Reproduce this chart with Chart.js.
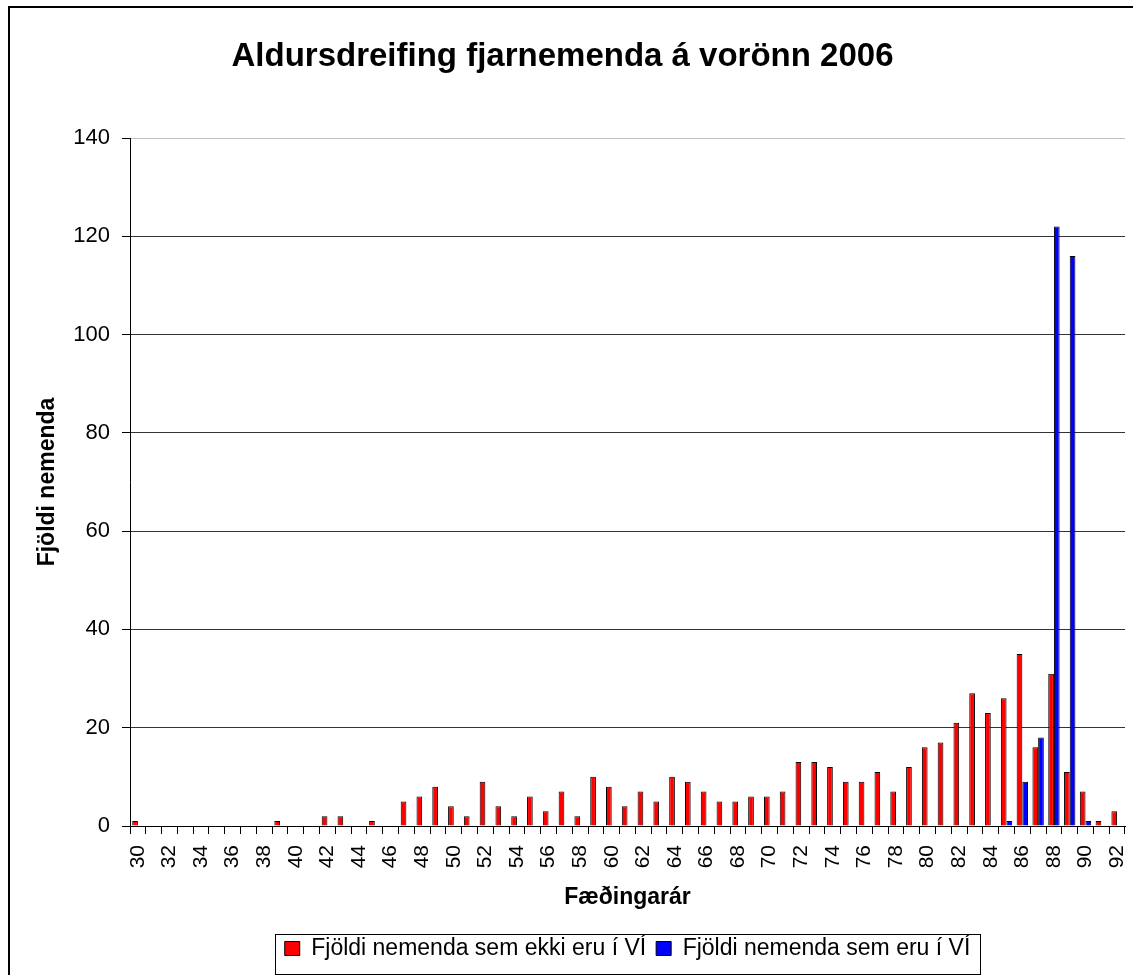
<!DOCTYPE html>
<html><head><meta charset="utf-8">
<script src="https://cdn.jsdelivr.net/npm/chart.js@4.4.0/dist/chart.umd.min.js"></script>
<style>html,body{margin:0;padding:0;background:#fff}canvas{display:block}</style>
</head><body>
<canvas id="c" width="1133" height="975"></canvas>
<script>
const years = ["30","31","32","33","34","35","36","37","38","39",
  "40","41","42","43","44","45","46","47","48","49",
  "50","51","52","53","54","55","56","57","58","59",
  "60","61","62","63","64","65","66","67","68","69",
  "70","71","72","73","74","75","76","77","78","79",
  "80","81","82","83","84","85","86","87","88","89",
  "90","91","92"];
const notInVI = [1,0,0,0,0,0,0,0,0,1,
  0,0,2,2,0,1,0,5,6,8,
  4,2,9,4,2,6,3,7,2,10,
  8,4,7,5,10,9,7,5,5,6,
  6,7,13,13,12,9,9,11,7,12,
  16,17,21,27,23,26,35,16,31,11,
  7,1,3];
const inVI = [0,0,0,0,0,0,0,0,0,0,
  0,0,0,0,0,0,0,0,0,0,
  0,0,0,0,0,0,0,0,0,0,
  0,0,0,0,0,0,0,0,0,0,
  0,0,0,0,0,0,0,0,0,0,
  0,0,0,0,0,1,9,18,122,116,
  1,0,0];
const yTicks = [0,20,40,60,80,100,120,140];
const seriesNames = ["Fjöldi nemenda sem ekki eru í VÍ","Fjöldi nemenda sem eru í VÍ"];
const titleText = "Aldursdreifing fjarnemenda á vorönn 2006";
const xTitle = "Fæðingarár";
const yTitle = "Fjöldi nemenda";

Chart.defaults.font.family = "'Liberation Sans', Arial, sans-serif";
Chart.defaults.color = '#000';

const decor = {
  id: 'decor',
  beforeDraw(chart) {
    const ctx = chart.ctx;
    ctx.save();
    ctx.fillStyle = '#fff';
    ctx.fillRect(0, 0, chart.width, chart.height);
    ctx.restore();
  },
  afterDraw(chart) {
    const ctx = chart.ctx;
    ctx.save();
    ctx.fillStyle = '#000';
    ctx.fillRect(8, 6, 2, chart.height);
    ctx.fillRect(8, 6, chart.width, 2);
    const hb = chart.legend.legendHitBoxes;
    if (hb && hb.length) {
      const first = hb[0], last = hb[hb.length - 1];
      const left = Math.round(first.left - 10) + 0.5;
      const right = Math.round(last.left + last.width + 10) + 0.5;
      const cy = first.top + first.height / 2;
      const top = Math.round(cy - 15) + 0.5;
      ctx.strokeStyle = '#000';
      ctx.lineWidth = 1;
      ctx.strokeRect(left, top, right - left, 974.5 - top);
    }
    ctx.restore();
  }
};

new Chart(document.getElementById('c'), {
  type: 'bar',
  data: {
    labels: years,
    datasets: [
      {label: seriesNames[0], data: notInVI, backgroundColor: '#FF0000', borderColor: '#000', borderWidth: 1},
      {label: seriesNames[1], data: inVI, backgroundColor: '#0000FF', borderColor: '#000', borderWidth: 1}
    ]
  },
  options: {
    responsive: false,
    animation: false,
    devicePixelRatio: 1,
    layout: {padding: {left: 0, right: 8, top: 0, bottom: 5}},
    datasets: {bar: {categoryPercentage: 0.72, barPercentage: 1}},
    plugins: {
      tooltip: {enabled: false},
      title: {display: true, text: titleText, color: '#000',
        font: {size: 33, weight: 'bold'}, padding: {top: 37, bottom: 61.4}},
      legend: {position: 'bottom', fullSize: false,
        labels: {font: {size: 23}, boxWidth: 15, boxHeight: 14, padding: 10, color: '#000'}}
    },
    scales: {
      x: {
        grid: {display: true, drawOnChartArea: false, drawTicks: true, tickLength: 8, color: '#000', offset: true},
        border: {color: '#000', width: 1},
        ticks: {autoSkip: false, maxRotation: 90, minRotation: 90, padding: 11, font: {size: 21}, color: '#000',
          callback: (v, i) => (i % 2 === 0 ? years[i] : '')},
        title: {display: true, text: xTitle, font: {size: 23, weight: 'bold'}, color: '#000', padding: {top: 4, bottom: 16}},
        afterFit: s => { s.height = 101; s.paddingRight = 0; s.paddingLeft = 0; }
      },
      y: {
        min: 0, max: 140,
        afterBuildTicks: s => { s.ticks = yTicks.map(v => ({value: v})); },
        grid: {color: c => (c.tick && c.tick.value === 140 ? '#c0c0c0' : '#333'), tickColor: '#000', tickLength: 8, lineWidth: 1},
        border: {color: '#000', width: 1},
        ticks: {font: {size: 22}, padding: 12, color: '#000'},
        title: {display: true, text: yTitle, font: {size: 23, weight: 'bold'}, color: '#000', padding: {top: 34, bottom: 4}},
        afterFit: s => { s.width = 130; }
      }
    }
  },
  plugins: [decor]
});
</script>
</body></html>
